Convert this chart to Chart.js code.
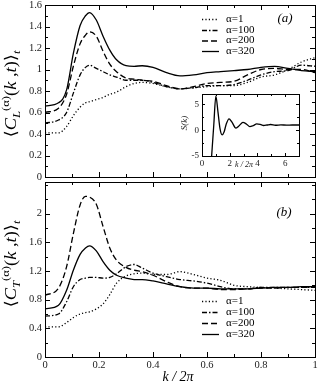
<!DOCTYPE html>
<html><head><meta charset="utf-8">
<script src="https://cdn.jsdelivr.net/npm/chart.js@4.4.1/dist/chart.umd.min.js"></script>
<style>
html,body{margin:0;padding:0;background:#fff;}
#wrap{position:relative;width:318px;height:383px;overflow:hidden;background:#fff;}
canvas{position:absolute;}
#cA{left:0;top:0;}
#cB{left:0;top:180px;}
#cI{left:180px;top:86px;}
</style></head><body>
<div id="wrap">
<canvas id="cA" width="318" height="180" style="width:318px;height:180px"></canvas>
<canvas id="cB" width="318" height="203" style="width:318px;height:203px"></canvas>
<canvas id="cI" width="125" height="88" style="width:125px;height:88px"></canvas>
</div>
<script>
// ---- data ----
const k = [0,0.05,0.08,0.105,0.13,0.15,0.165,0.19,0.215,0.24,0.265,0.3,0.33,0.36,0.4,0.45,0.5,0.55,0.6,0.65,0.7,0.75,0.8,0.85,0.9,0.95,1];
const seriesLabels = ['α=1','α=100','α=200','α=320'];
const cL1   = [0.41,0.41,0.47,0.57,0.65,0.69,0.70,0.72,0.74,0.77,0.79,0.84,0.87,0.88,0.87,0.84,0.82,0.83,0.84,0.85,0.85,0.88,0.93,0.95,1.0,1.07,1.11];
const cL100 = [0.50,0.53,0.60,0.78,0.95,1.02,1.04,1.01,0.98,0.95,0.93,0.90,0.90,0.90,0.88,0.84,0.82,0.83,0.85,0.85,0.86,0.90,0.95,0.98,0.99,1.04,1.03];
const cL200 = [0.60,0.64,0.77,1.03,1.24,1.32,1.35,1.31,1.17,1.05,0.98,0.92,0.91,0.90,0.89,0.85,0.82,0.84,0.87,0.88,0.89,0.95,1.0,1.01,1.0,1.0,0.97];
const cL320 = [0.66,0.69,0.81,1.15,1.41,1.50,1.53,1.46,1.31,1.18,1.09,1.035,1.03,1.035,1.02,0.97,0.94,0.95,0.97,0.98,0.99,1.0,1.02,1.03,1.01,0.99,0.98];
const cT1   = [0.42,0.42,0.48,0.55,0.60,0.62,0.63,0.67,0.74,0.87,1.03,1.13,1.16,1.17,1.15,1.15,1.19,1.15,1.10,1.07,1.0,0.98,0.97,0.96,0.95,0.94,0.93];
const cT100 = [0.57,0.60,0.77,0.98,1.08,1.10,1.11,1.11,1.10,1.11,1.16,1.26,1.29,1.24,1.17,1.12,1.08,1.06,1.03,0.98,0.95,0.95,0.97,0.97,0.97,0.97,0.97];
const cT200 = [0.86,0.96,1.26,1.72,2.12,2.24,2.23,2.13,1.82,1.52,1.35,1.25,1.21,1.19,1.14,1.05,0.98,0.96,0.96,0.94,0.94,0.95,0.96,0.96,0.97,0.97,0.97];
const cT320 = [0.67,0.72,0.93,1.21,1.43,1.52,1.55,1.48,1.33,1.21,1.14,1.10,1.08,1.08,1.06,1.02,0.98,0.96,0.96,0.95,0.95,0.95,0.96,0.97,0.97,0.98,0.98];
const kS = [0.68,0.85,1.0,1.15,1.3,1.45,1.6,1.75,1.95,2.15,2.45,2.7,2.95,3.2,3.45,3.7,3.95,4.2,4.45,4.7,4.95,5.3,5.7,6.1,6.5,7];
const sK = [-5.6,1.0,6.6,3.6,0.3,-0.9,-0.3,1.2,2.2,1.6,0.4,0.9,1.5,1.2,0.7,0.9,1.2,1.1,0.9,1.0,1.1,0.95,1.02,0.98,1.0,1.0];
// tick labels (major) and minor tick positions
const xMajor = [0,0.2,0.4,0.6,0.8,1];
const xMinor = [0.1,0.3,0.5,0.7,0.9];
const yMajorL = [0,0.2,0.4,0.6,0.8,1,1.2,1.4,1.6];
const yMinorL = [0.1,0.3,0.5,0.7,0.9,1.1,1.3,1.5];
const yMajorT = [0,0.4,0.8,1.2,1.6,2];
const yMinorT = [0.2,0.6,1.0,1.4,1.8,2.2,2.4];
const sxMajor = [0,2,4,6];
const sxMinor = [1,3,5];
const syMajor = [-5,0,5];
const syMinor = [-2.5,2.5];

// ---- styles ----
const dashes = [[1.2,2.2],[5,2,1.5,2],[6,3],[]];
const SERIF = '"Liberation Serif","DejaVu Serif",serif';
const tickFont = {family: SERIF, size: 10.5};

function pts(xs, ys){ return xs.map((v,i)=>({x:v,y:ys[i]})); }
function ds(label, xs, ys, dash){
  return {label, data: pts(xs,ys), borderColor:'#000', borderWidth:1.3, borderDash:dash,
    pointRadius:0, fill:false, cubicInterpolationMode:'monotone', borderCapStyle:'butt'};
}
function axis(min, max, majors, minors, opts, tickOpts){
  const all = majors.concat(minors).sort((a,b)=>a-b);
  return Object.assign({
    type:'linear', min, max,
    grid:{display:false, drawTicks:false}, border:{display:false},
    afterBuildTicks(s){ s.ticks = all.map(v=>({value:v})); },
    ticks:Object.assign({ autoSkip:false, maxRotation:0, font:tickFont, color:'#222', padding:3,
      callback:(v)=> majors.includes(v) ? String(v) : '' }, tickOpts||{})
  }, opts);
}
function framePlugin(xM, yM, len, minor, bg){
  const isMaj=(v,l)=>l.some(m=>Math.abs(m-v)<1e-9);
  return {
    id:'frame',
    beforeDatasetsDraw(chart){
      if(!bg) return;
      const a=chart.chartArea, c=chart.ctx;
      c.save(); c.fillStyle='#fff'; c.fillRect(a.left,a.top,a.right-a.left,a.bottom-a.top); c.restore();
    },
    afterDatasetsDraw(chart){
      const {ctx:c, chartArea:a, scales} = chart;
      c.save(); c.strokeStyle='#000'; c.lineWidth=1; c.setLineDash([]);
      c.beginPath();
      scales.x.ticks.forEach(t=>{
        const p=Math.round(scales.x.getPixelForValue(t.value))+0.5;
        const L=isMaj(t.value,xM)?len:minor;
        c.moveTo(p,a.bottom); c.lineTo(p,a.bottom-L);
        c.moveTo(p,a.top); c.lineTo(p,a.top+L);
      });
      scales.y.ticks.forEach(t=>{
        const p=Math.round(scales.y.getPixelForValue(t.value))+0.5;
        const L=isMaj(t.value,yM)?len:minor;
        c.moveTo(a.left,p); c.lineTo(a.left+L,p);
        c.moveTo(a.right,p); c.lineTo(a.right-L,p);
      });
      c.stroke();
      c.strokeRect(Math.round(a.left)+0.5, Math.round(a.top)+0.5, Math.round(a.right-a.left), Math.round(a.bottom-a.top));
      c.restore();
    }
  };
}
function textPlugin(fn){ return {id:'txt', afterDraw(chart){ const c=chart.ctx; c.save(); fn(c, chart); c.restore(); }}; }

function drawRichV(c, cx, cy, segs, stretch){
  c.translate(cx, cy); c.rotate(-Math.PI/2); c.scale(stretch,1);
  let w=0;
  segs.forEach(s=>{ c.font=s.f; s.w=c.measureText(s.t).width; w+=s.w; });
  let x=-w/2;
  c.fillStyle='#000'; c.textBaseline='alphabetic'; c.textAlign='left';
  segs.forEach(s=>{ c.font=s.f; c.fillText(s.t, x, s.dy); x+=s.w; });
}
function titleSegs(sub){
  const N='16px '+SERIF, I='italic 16px '+SERIF, s='11px '+SERIF, si='italic 11px '+SERIF;
  return [
    {t:'⟨',f:N,dy:0},{t:'C',f:I,dy:0},{t:sub,f:si,dy:4},{t:'(α)',f:s,dy:-7},
    {t:'(',f:N,dy:0},{t:'k',f:I,dy:0},{t:' ,',f:N,dy:0},{t:'t',f:I,dy:0},{t:')⟩',f:N,dy:0},{t:'t',f:si,dy:4}
  ];
}
function drawLegend(c, rows){
  c.font='11px '+SERIF; c.textBaseline='middle'; c.textAlign='left'; c.fillStyle='#000';
  seriesLabels.forEach((lab,i)=>{
    c.strokeStyle='#000'; c.lineWidth=1.3; c.setLineDash(dashes[i]);
    c.beginPath(); c.moveTo(202, rows[i]+0.5); c.lineTo(219, rows[i]+0.5); c.stroke();
    c.setLineDash([]);
    c.fillText(lab, 226, rows[i]);
  });
}

const common = {responsive:false, animation:false, devicePixelRatio:1, events:[],
  plugins:{legend:{display:false}, tooltip:{enabled:false}}};

// ---- panel (a) ----
new Chart(document.getElementById('cA'), {
  type:'line',
  data:{datasets:[ds(seriesLabels[0],k,cL1,dashes[0]),ds(seriesLabels[1],k,cL100,dashes[1]),ds(seriesLabels[2],k,cL200,dashes[2]),ds(seriesLabels[3],k,cL320,dashes[3])]},
  options:Object.assign({}, common, {
    layout:{padding:{top:5,right:3,left:0,bottom:0}},
    scales:{
      x: axis(0,1,xMajor,xMinor,{afterFit(s){s.height=3;s.paddingLeft=0;s.paddingRight=0;}},{display:false}),
      y: axis(0,1.6,yMajorL,yMinorL,{afterFit(s){s.width=45;s.paddingTop=0;s.paddingBottom=0;}})
    }
  }),
  plugins:[framePlugin(xMajor,yMajorL,5,3,false), textPlugin((c)=>{
    drawLegend(c,[19,30,40.5,51]);
    c.font='italic 13px '+SERIF; c.textAlign='center'; c.textBaseline='middle'; c.fillStyle='#000';
    c.fillText('(a)', 285, 19);
    drawRichV(c, 16, 94, titleSegs('L'), 1.15);
  })]
});

// ---- panel (b) ----
new Chart(document.getElementById('cB'), {
  type:'line',
  data:{datasets:[ds(seriesLabels[0],k,cT1,dashes[0]),ds(seriesLabels[1],k,cT100,dashes[1]),ds(seriesLabels[2],k,cT200,dashes[2]),ds(seriesLabels[3],k,cT320,dashes[3])]},
  options:Object.assign({}, common, {
    layout:{padding:{top:2,right:3,left:0,bottom:0}},
    scales:{
      x: axis(0,1,xMajor,xMinor,{afterFit(s){s.height=26;s.paddingLeft=0;s.paddingRight=0;}},{padding:2}),
      y: axis(0,2.44,yMajorT,yMinorT,{afterFit(s){s.width=45;s.paddingTop=0;s.paddingBottom=0;}})
    }
  }),
  plugins:[framePlugin(xMajor,yMajorT,5,3,false), textPlugin((c)=>{
    drawLegend(c,[121,132,143,154]);
    c.font='italic 13px '+SERIF; c.textAlign='center'; c.textBaseline='middle'; c.fillStyle='#000';
    c.fillText('(b)', 284, 33);
    c.font='italic 14px '+SERIF;
    c.fillText('k / 2π', 178, 197);
    drawRichV(c, 16, 84, titleSegs('T'), 1.15);
  })]
});

// ---- inset S(k) ----
const smallFont = {family: SERIF, size: 9};
new Chart(document.getElementById('cI'), {
  type:'line',
  data:{datasets:[{label:'S(k)', data:pts(kS,sK), borderColor:'#000', borderWidth:1.3, pointRadius:0, fill:false, cubicInterpolationMode:'monotone'}]},
  options:Object.assign({}, common, {
    layout:{padding:{top:8,right:6,left:0,bottom:0}},
    scales:{
      x: axis(0,7,sxMajor,sxMinor,{afterFit(s){s.height=18;s.paddingLeft=0;s.paddingRight=0;}},{font:smallFont,padding:2}),
      y: axis(-5,7,syMajor,syMinor,{afterFit(s){s.width=22;s.paddingTop=0;s.paddingBottom=0;}},{font:smallFont,padding:3})
    }
  }),
  plugins:[framePlugin(sxMajor,syMajor,3,2,true), textPlugin((c)=>{
    c.fillStyle='#222'; c.textAlign='center'; c.textBaseline='middle';
    c.font='italic 8px '+SERIF;
    c.fillText('k / 2π', 64, 79);
    c.translate(5, 37); c.rotate(-Math.PI/2);
    c.font='italic 9px '+SERIF;
    c.fillText('S(k)', 0, 0);
  })]
});
</script>
</body></html>
